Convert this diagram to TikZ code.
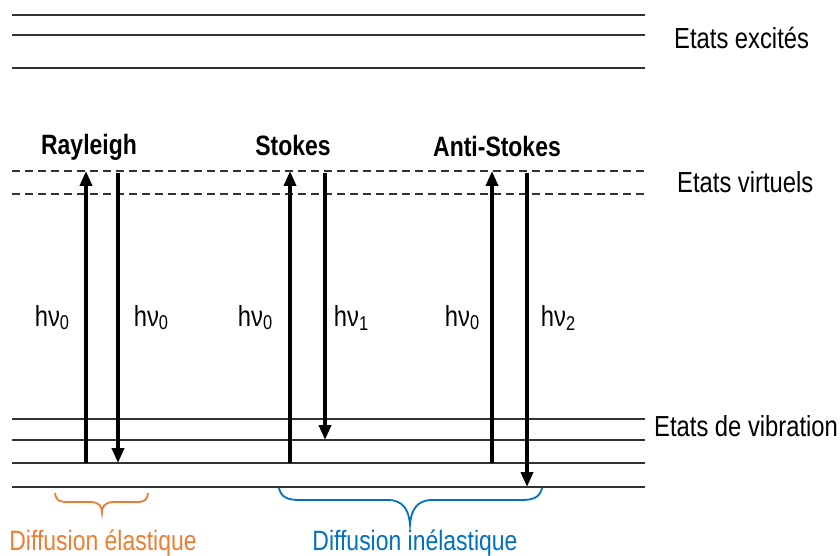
\documentclass[tikz,border=0pt]{standalone}
\usepackage{fontspec}
\setmainfont{Liberation Sans}[FakeStretch=0.82]
\usetikzlibrary{arrows.meta}
\definecolor{orng}{RGB}{237,125,49}
\definecolor{blu}{RGB}{0,112,192}
\definecolor{lvl}{RGB}{50,50,50}
\newcommand{\hsub}[1]{\raisebox{-0.2ex}{\fontsize{20}{22}\selectfont #1}}
\begin{document}
\begin{tikzpicture}[x=1pt,y=-1pt,
  level/.style={lvl,line width=1.1pt},
  vlevel/.style={lvl,line width=1.1pt,dash pattern=on 8pt off 5pt},
  photon/.style={line width=3.6pt,-{Triangle[length=15pt,width=12pt]}},
  lab/.style={font=\fontsize{29}{32}\selectfont,inner sep=0pt},
  blab/.style={font=\fontsize{28}{31}\selectfont,inner sep=0pt},
  title/.style={font=\fontsize{28}{31}\selectfont\bfseries,inner sep=0pt},
  brace/.style={line width=1.8pt}]
\useasboundingbox (0,0) rectangle (840,556);
% excited states
\foreach \y in {15,35,68} \draw[level] (12,\y) -- (645,\y);
\node[lab,anchor=west] (exc) at (674,38) {Etats excités};
% virtual states
\foreach \y in {171,194} \draw[vlevel] (12,\y) -- (645,\y);
\node[lab,anchor=west] (virt) at (677,182) {Etats virtuels};
% vibration states
\foreach \y in {419,440,463,487} \draw[level] (12,\y) -- (645,\y);
\node[lab,anchor=west] (vib) at (654,426) {Etats de vibration};
% titles
\node[title] (ray) at (89,147) {Rayleigh};
\node[title] (sto) at (293,145) {Stokes};
\node[title] (ast) at (497,146) {Anti-Stokes};
% arrow end points
\coordinate (r1a) at (86,463);  \coordinate (r1b) at (86,171);
\coordinate (r2a) at (118,173); \coordinate (r2b) at (118,463);
\coordinate (s1a) at (290,463); \coordinate (s1b) at (290,171);
\coordinate (s2a) at (325,173); \coordinate (s2b) at (325,440);
\coordinate (a1a) at (492,463); \coordinate (a1b) at (492,171);
\coordinate (a2a) at (527,173); \coordinate (a2b) at (527,487);
\draw[photon] (r1a) -- (r1b);
\draw[photon] (r2a) -- (r2b);
\draw[photon] (s1a) -- (s1b);
\draw[photon] (s2a) -- (s2b);
\draw[photon] (a1a) -- (a1b);
\draw[photon] (a2a) -- (a2b);
% photon labels
\node[lab] (l1) at (52,318) {hν\hsub{0}};
\node[lab] (l2) at (151,318) {hν\hsub{0}};
\node[lab] (l3) at (255,318) {hν\hsub{0}};
\node[lab] (l4) at (351,318) {hν\hsub{1}};
\node[lab] (l5) at (462,318) {hν\hsub{0}};
\node[lab] (l6) at (558,318) {hν\hsub{2}};
% braces
\draw[brace,orng] (55,493) .. controls (56,501) and (60,502) .. (68,502) -- (90,502)
  .. controls (99,502) and (102,506) .. (102,513)
  .. controls (102,506) and (105,502) .. (114,502) -- (136,502)
  .. controls (144,502) and (147,501) .. (148,493);
\draw[brace,blu] (279,488) .. controls (281,497) and (287,500) .. (300,500) -- (388,500)
  .. controls (403,500) and (409,510) .. (410,525)
  .. controls (411,510) and (417,500) .. (432,500) -- (521,500)
  .. controls (534,500) and (540,497) .. (542,488);
\node[blab,orng] (el) at (103,543) {Diffusion élastique};
\node[blab,blu] (inel) at (415,543) {Diffusion inélastique};
\end{tikzpicture}
\end{document}
